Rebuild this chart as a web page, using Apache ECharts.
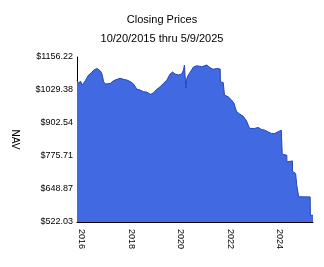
<!DOCTYPE html>
<html><head><meta charset="utf-8">
<script src="https://cdn.jsdelivr.net/npm/echarts@6/dist/echarts.min.js"></script>
<style>html,body{margin:0;padding:0;background:#fff}#c{width:324px;height:267px}</style>
</head><body><div id="c"></div>
<script>
const titleText = 'Closing Prices';
const subtitleText = '10/20/2015 thru 5/9/2025';
const axisName = 'NAV';
const dates = [
 '2015-10-20','2015-11-13','2015-12-10','2016-01-05','2016-02-20','2016-04-08','2016-05-18','2016-06-24',
 '2016-08-11','2016-10-01','2016-10-23','2016-11-17','2016-12-13','2017-01-11','2017-02-24','2017-04-12',
 '2017-06-02','2017-07-19','2017-09-09','2017-10-26','2017-12-16','2018-02-02','2018-03-25','2018-05-12',
 '2018-06-28','2018-08-15','2018-09-09','2018-10-12','2018-11-25','2019-01-11','2019-03-03','2019-04-20',
 '2019-06-10','2019-07-27','2019-09-02','2019-10-09','2019-11-25','2020-01-15','2020-02-10','2020-02-24',
 '2020-03-16','2020-04-01','2020-04-22','2020-06-09','2020-07-06','2020-08-26','2020-09-17','2020-11-07',
 '2020-12-10','2021-01-19','2021-03-07','2021-04-23','2021-06-14','2021-08-06','2021-08-09','2021-09-20',
 '2021-10-06','2021-10-08','2021-12-02','2022-01-22','2022-02-28','2022-03-18','2022-04-08','2022-05-22',
 '2022-07-09','2022-08-04','2022-08-29','2022-09-24','2022-10-16','2022-11-10','2022-12-28','2023-02-17',
 '2023-04-08','2023-05-26','2023-07-13','2023-09-02','2023-10-20','2023-12-10','2024-01-26','2024-02-08',
 '2024-02-09','2024-04-17','2024-04-18','2024-07-09','2024-07-10','2024-08-25','2024-09-11','2024-10-08',
 '2024-10-09','2025-03-28','2025-03-31','2025-05-09'
];
const navValues = [
 1065.7,1054.9,1063.8,1048.4,1065.0,1086.9,1094.6,1106.1,
 1111.9,1102.3,1090.7,1061.1,1052.2,1050.3,1054.9,1064.9,
 1070.3,1074.2,1070.3,1067.6,1061.9,1052.2,1031.8,1029.1,
 1022.6,1021.4,1020.3,1012.6,1018.7,1031.8,1041.8,1054.9,
 1067.6,1090.7,1098.4,1090.7,1086.9,1090.7,1106.1,1125.4,
 1036.8,1075.3,1086.9,1106.1,1117.7,1122.7,1121.5,1118.8,
 1121.5,1125.4,1115.8,1108.8,1111.9,1110.0,1061.1,1058.0,
 1058.0,1009.9,1003.3,990.6,977.9,959.8,945.6,936.7,
 929.0,926.3,911.7,894.4,881.6,877.8,881.6,885.5,
 877.8,875.1,868.6,862.4,862.4,868.6,875.1,875.0,
 782.7,778.8,753.0,756.9,717.2,708.4,663.3,659.5,
 619.0,618.3,547.8,547.8
];
const yTickLabels = ['$522.03','$648.87','$775.71','$902.54','$1029.38','$1156.22'];
const xTickYears = [2016, 2018, 2020, 2022, 2024];
const xStart = '2015-10-20', xEnd = '2025-05-09';

function toTime(s) { const p = s.split('-').map(Number); return Date.UTC(p[0], p[1]-1, p[2]); }
const yMin = parseFloat(yTickLabels[0].slice(1));
const yMax = parseFloat(yTickLabels[yTickLabels.length-1].slice(1));
const yStep = (yMax - yMin) / (yTickLabels.length - 1);
const font = "'Liberation Sans', Arial, sans-serif";

const chart = echarts.init(document.getElementById('c'), null, {renderer:'canvas'});
chart.setOption({
  animation: false,
  backgroundColor: '#fff',
  title: [
    {text: titleText, left: 'center', top: 9, textStyle: {fontSize: 11, fontWeight: 'normal', color: '#000', fontFamily: font}},
    {text: subtitleText, left: 'center', top: 28, textStyle: {fontSize: 11, fontWeight: 'normal', color: '#000', fontFamily: font}}
  ],
  grid: {left: 77, right: 11, top: 57, bottom: 45},
  xAxis: {
    type: 'value', min: toTime(xStart), max: toTime(xEnd), scale: true,
    axisLine: {show: true, onZero: false, lineStyle: {color: '#000', width: 1}},
    axisTick: {show: false},
    splitLine: {show: false},
    axisLabel: {
      rotate: -90, margin: 7, fontSize: 9, color: '#000', fontFamily: font,
      customValues: xTickYears.map(y => Date.UTC(y, 0, 1)),
      formatter: v => String(new Date(v).getUTCFullYear())
    }
  },
  yAxis: {
    type: 'value', min: yMin, max: yMax, interval: yStep,
    name: axisName, nameLocation: 'middle', nameGap: 57, nameRotate: -90,
    nameTextStyle: {fontSize: 10, color: '#000', fontFamily: font},
    axisLine: {show: true, lineStyle: {color: '#000', width: 1}},
    axisTick: {show: false},
    splitLine: {show: false},
    axisLabel: {
      margin: 4, fontSize: 9, color: '#000', fontFamily: font,
      formatter: v => yTickLabels[Math.round((v - yMin) / yStep)] || ''
    }
  },
  series: [{
    type: 'line',
    data: dates.map((d, i) => [toTime(d), navValues[i]]),
    showSymbol: false,
    lineStyle: {color: '#2347b8', width: 1},
    areaStyle: {color: '#4169e1', opacity: 1},
    z: 1
  }]
});
</script></body></html>
